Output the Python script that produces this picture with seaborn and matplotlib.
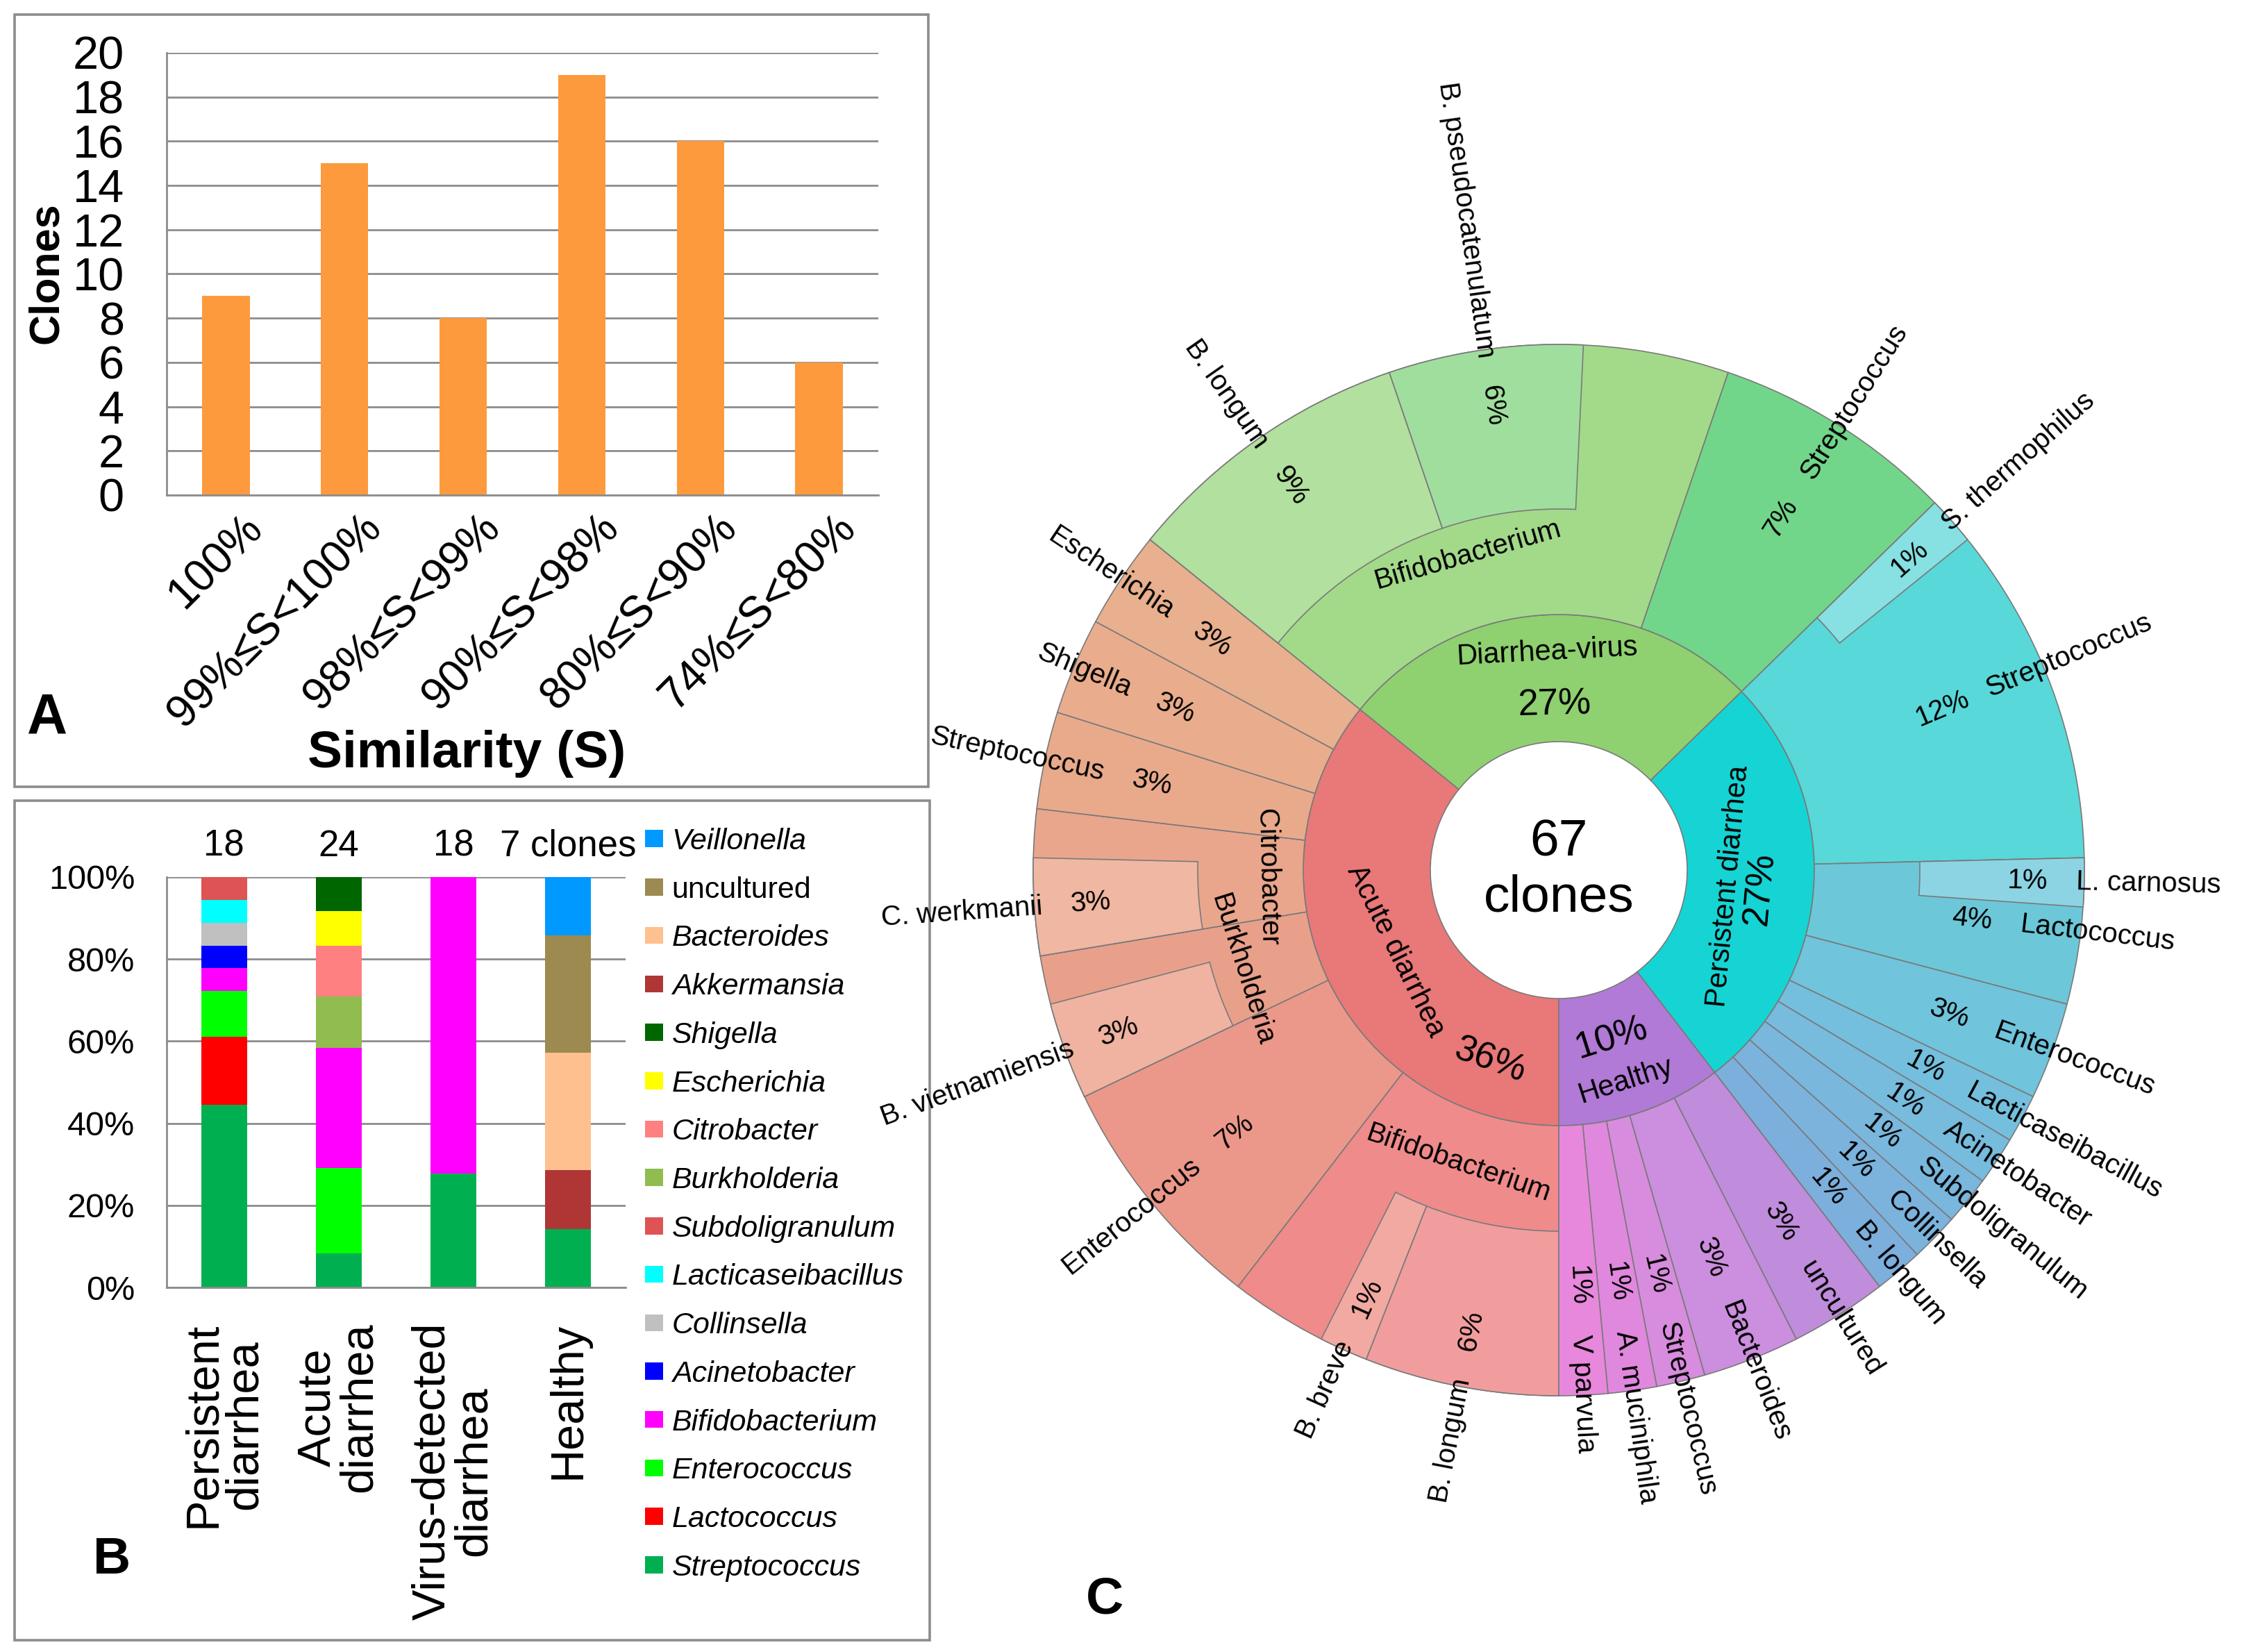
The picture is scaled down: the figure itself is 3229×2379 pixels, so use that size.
import numpy as np
import pandas as pd
import matplotlib
matplotlib.use("Agg")
import matplotlib.pyplot as plt
import seaborn as sns
from matplotlib import font_manager
from matplotlib.patches import Wedge, Rectangle, Patch
from matplotlib.transforms import ScaledTranslation

# ---------------- data ----------------
# Panel A: clones per similarity bin
similarity_bins = ["100%", "99%≤S<100%", "98%≤S<99%", "90%≤S<98%", "80%≤S<90%", "74%≤S<80%"]
clones_per_bin = [9, 15, 8, 19, 16, 6]

# Sunburst groups, clockwise from 6 o'clock
groups = ["Acute diarrhea", "Diarrhea-virus", "Persistent diarrhea", "Healthy"]

acute_genera = ["Bifidobacterium", "Enterococcus", "Burkholderia", "Citrobacter",
                "Streptococcus", "Shigella", "Escherichia"]
acute_counts = [7, 5, 3, 3, 2, 2, 2]
acute_species = ["B. longum", "B. breve", "B. vietnamiensis", "C. werkmanii"]
acute_species_genus = ["Bifidobacterium", "Bifidobacterium", "Burkholderia", "Citrobacter"]
acute_species_counts = [4, 1, 2, 2]

virus_genera = ["Bifidobacterium", "Streptococcus"]
virus_counts = [13, 5]
virus_species = ["B. longum", "B. pseudocatenulatum"]
virus_species_genus = ["Bifidobacterium", "Bifidobacterium"]
virus_species_counts = [6, 4]

persistent_genera = ["Streptococcus", "Lactococcus", "Enterococcus", "Lacticaseibacillus",
                     "Acinetobacter", "Subdoligranulum", "Collinsella", "Bifidobacterium"]
persistent_counts = [8, 3, 2, 1, 1, 1, 1, 1]
persistent_species = ["S. thermophilus", "L. carnosus", "B. longum"]
persistent_species_genus = ["Streptococcus", "Lactococcus", "Bifidobacterium"]
persistent_species_counts = [1, 1, 1]

healthy_genera = ["uncultured", "Bacteroides", "Streptococcus", "Akkermansia", "Veillonella"]
healthy_counts = [2, 2, 1, 1, 1]
healthy_species = ["A. muciniphila", "V parvula"]
healthy_species_genus = ["Akkermansia", "Veillonella"]
healthy_species_counts = [1, 1]

# Panel B
b_groups = ["Persistent diarrhea", "Acute diarrhea", "Diarrhea-virus", "Healthy"]
b_ticklabels = ["Persistent\ndiarrhea", "Acute\ndiarrhea", "Virus-detected\ndiarrhea", "Healthy"]
legend_genera = ["Veillonella", "uncultured", "Bacteroides", "Akkermansia", "Shigella",
                 "Escherichia", "Citrobacter", "Burkholderia", "Subdoligranulum",
                 "Lacticaseibacillus", "Collinsella", "Acinetobacter", "Bifidobacterium",
                 "Enterococcus", "Lactococcus", "Streptococcus"]

# ---------------- colours ----------------
genus_palette = {
    "Veillonella": "#0099FF", "uncultured": "#9C8A50", "Bacteroides": "#FFC090",
    "Akkermansia": "#B03636", "Shigella": "#006600", "Escherichia": "#FFFF00",
    "Citrobacter": "#FF8080", "Burkholderia": "#90BC50", "Subdoligranulum": "#DE5454",
    "Lacticaseibacillus": "#00FFFF", "Collinsella": "#C0C0C0", "Acinetobacter": "#0000FF",
    "Bifidobacterium": "#FF00FF", "Enterococcus": "#00FF00", "Lactococcus": "#FF0000",
    "Streptococcus": "#00B050",
}
ring_colors = {"Acute diarrhea": "#E97878", "Diarrhea-virus": "#8FD170",
               "Persistent diarrhea": "#16D4D4", "Healthy": "#B07AD6"}
sun_genus_colors = {
    "Acute diarrhea": ["#EF8B8B", "#EB988A", "#E9A08A", "#E9A68C", "#E9AA8C", "#E9AD8D", "#E8B08E"],
    "Diarrhea-virus": ["#A3DA8A", "#72D68A"],
    "Persistent diarrhea": ["#58D8D8", "#6CC8D8", "#70C4DC", "#74BFDD", "#77BBDD",
                            "#79B7DD", "#7BB3DD", "#7DAFDD"],
    "Healthy": ["#C08CDC", "#CC8EDE", "#D88CDE", "#E088DE", "#E888DC"],
}
sun_species_colors = {
    "Acute diarrhea": ["#F29D9D", "#F2A9A2", "#F0B3A1", "#F0B7A2"],
    "Diarrhea-virus": ["#B2E09E", "#A0DE9E"],
    "Persistent diarrhea": ["#87E0E2", "#8CD4E4", "#7DAFDD"],
    "Healthy": ["#E088DE", "#E888DC"],
}
GRID = "#8C8C8C"
EDGE = "#7A7A7A"

table = {
    "Acute diarrhea": (acute_genera, acute_counts, acute_species, acute_species_genus, acute_species_counts),
    "Diarrhea-virus": (virus_genera, virus_counts, virus_species, virus_species_genus, virus_species_counts),
    "Persistent diarrhea": (persistent_genera, persistent_counts, persistent_species,
                            persistent_species_genus, persistent_species_counts),
    "Healthy": (healthy_genera, healthy_counts, healthy_species, healthy_species_genus, healthy_species_counts),
}

# ---------------- figure ----------------
sns.set_style("white")
plt.rcParams["font.family"] = ["Liberation Sans", "DejaVu Sans"]
plt.rcParams["text.color"] = "black"
plt.rcParams["axes.labelcolor"] = "black"


def pick_font(name, fallback):
    try:
        font_manager.findfont(font_manager.FontProperties(family=name), fallback_to_default=False)
        return name
    except Exception:
        return fallback


NARROW = pick_font("Liberation Sans Narrow", "Liberation Sans")

W, H = 3230, 2379
fig = plt.figure(figsize=(W / 200, H / 200), dpi=200)


def fax(x0, y0, x1, y1):
    return [x0 / W, 1 - y1 / H, (x1 - x0) / W, (y1 - y0) / H]


axA = fig.add_axes(fax(240, 76, 1265, 713))
axB = fig.add_axes(fax(240, 1263, 901, 1854))
canvas = fig.add_axes([0, 0, 1, 1], zorder=5)
canvas.set_xlim(0, W)
canvas.set_ylim(H, 0)
canvas.axis("off")

# ---------- Panel A ----------
sns.barplot(x=similarity_bins, y=clones_per_bin, color="#FD9A3E", saturation=1,
            width=0.4, errorbar=None, ax=axA, linewidth=0)
axA.set_xlim(-0.5, 5.5)
axA.set_ylim(0, 20)
axA.set_yticks(range(0, 21, 2))
axA.yaxis.grid(True, color=GRID, lw=1.0)
axA.set_axisbelow(True)
sns.despine(ax=axA)
for s in ["left", "bottom"]:
    axA.spines[s].set_color(GRID)
    axA.spines[s].set_linewidth(1.0)
axA.tick_params(axis="y", length=7.5, width=1.0, color=GRID, labelcolor="black", labelsize=24, pad=14.5)
axA.set_xticks(np.arange(-0.5, 6, 1), minor=True)
axA.tick_params(axis="x", which="minor", length=7.5, width=1.0, color=GRID, direction="out")
axA.tick_params(axis="x", which="major", length=0, labelsize=23, labelcolor="black", pad=6)
axA.set_xticks(range(len(similarity_bins)))
axA.set_xticklabels(similarity_bins)
for lbl in axA.get_xticklabels():
    lbl.set_rotation(45)
    lbl.set_ha("right")
    lbl.set_va("top")
    lbl.set_rotation_mode("anchor")
    lbl.set_transform(lbl.get_transform() + ScaledTranslation(0.11, 0, fig.dpi_scale_trans))
axA.set_xlabel("")
axA.set_ylabel("")

# ---------- Panel B ----------
rows = []
for g in b_groups:
    for gen, c in zip(table[g][0], table[g][1]):
        rows.append((g, gen, c))
df = pd.DataFrame(rows, columns=["group", "genus", "clones"])
wide = df.pivot_table(index="group", columns="genus", values="clones", aggfunc="sum", fill_value=0)
wide = wide.reindex(index=b_groups, columns=legend_genera[::-1], fill_value=0)
pct = wide.div(wide.sum(axis=1), axis=0) * 100
cum = pct.cumsum(axis=1)
for gen in legend_genera:
    d = pd.DataFrame({"group": b_ticklabels, "top": cum[gen].values})
    sns.barplot(data=d, x="group", y="top", order=b_ticklabels, color=genus_palette[gen],
                saturation=1, width=0.4, errorbar=None, ax=axB, linewidth=0)
axB.set_xlim(-0.5, 3.5)
axB.set_ylim(0, 100)
axB.set_yticks(range(0, 101, 20))
axB.set_yticklabels([f"{v}%" for v in range(0, 101, 20)])
axB.yaxis.grid(True, color=GRID, lw=1.0)
axB.set_axisbelow(True)
sns.despine(ax=axB)
for s in ["left", "bottom"]:
    axB.spines[s].set_color(GRID)
    axB.spines[s].set_linewidth(1.0)
axB.tick_params(axis="y", length=7.5, width=1.0, color=GRID, labelcolor="black", labelsize=17.5, pad=9)
axB.set_xticks(np.arange(-0.5, 4, 1), minor=True)
axB.tick_params(axis="x", which="minor", length=7.5, width=1.0, color=GRID, direction="out")
axB.tick_params(axis="x", which="major", length=0, labelsize=24, labelcolor="black", pad=18)
axB.set_xticks(range(4))
axB.set_xticklabels(b_ticklabels, rotation=90, va="top", ha="center", linespacing=0.95)
axB.set_xlabel("")
axB.set_ylabel("")
totals = wide.sum(axis=1).values
for i, n in enumerate(totals):
    txt = f"{n} clones" if i == len(totals) - 1 else f"{n}"
    axB.text(i, 107.5, txt, ha="center", va="center", fontsize=19, clip_on=False)

handles = [Patch(facecolor=genus_palette[g], edgecolor="none") for g in legend_genera]
leg = axB.legend(handles, legend_genera, loc="upper left", bbox_to_anchor=(929 / W, 1 - 1192 / H),
                 bbox_transform=fig.transFigure, frameon=False, fontsize=15.5, handlelength=0.6,
                 handleheight=0.5, handletextpad=0.3, labelspacing=0.69, borderpad=0, borderaxespad=0)
for t in leg.get_texts():
    t.set_color("black")
    if t.get_text() != "uncultured":
        t.set_style("italic")

# ---------- frames, axis titles and panel letters ----------
canvas.add_patch(Rectangle((21, 21), 1316, 1112, fill=False, edgecolor=GRID, lw=1.3))
canvas.add_patch(Rectangle((21, 1153), 1318, 1209, fill=False, edgecolor=GRID, lw=1.3))
canvas.text(672, 1086, "Similarity (S)", ha="center", va="center", fontsize=27, fontweight="bold")
canvas.text(68, 393, "Clones", ha="center", va="center", rotation=90, fontsize=22, fontweight="bold")
canvas.text(68, 1035, "A", ha="center", va="center", fontsize=29, fontweight="bold")
canvas.text(161, 2247, "B", ha="center", va="center", fontsize=27, fontweight="bold")
canvas.text(1591, 2304, "C", ha="center", va="center", fontsize=27, fontweight="bold")

# ---------- Panel C: sunburst ----------
CX, CY = 2245, 1253
R_HOLE, R_CAT, R_GEN, R_OUT = 185, 368, 520, 757
TOTAL = sum(sum(table[g][1]) for g in groups)
STEP = 360.0 / TOTAL
LAB = 14.5


def polar(theta, r):
    t = np.radians(theta)
    return CX - r * np.sin(t), CY + r * np.cos(t)


def ring(t0, t1, r_in, r_out, color):
    canvas.add_patch(Wedge((CX, CY), r_out, 90 + t0, 90 + t1, width=r_out - r_in,
                           facecolor=color, edgecolor=EDGE, linewidth=0.6))


def tangential_rot(theta):
    rot = (-theta + 180) % 360 - 180
    if rot > 90:
        rot -= 180
    elif rot <= -90:
        rot += 180
    return rot


def radial_label(theta, r_in, name, pct):
    t = np.radians(theta)
    rot = np.degrees(np.arctan2(-np.cos(t), -np.sin(t)))
    flipped = False
    if rot > 90:
        rot -= 180
        flipped = True
    elif rot <= -90:
        rot += 180
        flipped = True
    r_pct = (r_in + R_OUT) / 2 + 37
    x, y = polar(theta, r_pct)
    canvas.text(x, y, pct, rotation=rot, rotation_mode="anchor", ha="center", va="center", fontsize=LAB)
    x, y = polar(theta, r_pct + 70)
    canvas.text(x, y, name, rotation=rot, rotation_mode="anchor",
                ha="right" if flipped else "left", va="center", fontsize=LAB)


GENUS_RING_R = {("Diarrhea-virus", "Bifidobacterium"): 473, ("Acute diarrhea", "Bifidobacterium"): 446,
                ("Acute diarrhea", "Citrobacter"): 420, ("Acute diarrhea", "Burkholderia"): 478}
RING_LABEL_POS = {  # (theta, r) for group name and for its percentage
    "Acute diarrhea": ((63.6, 262), (19.8, 292)),
    "Diarrhea-virus": ((177.0, 314), (178.5, 238)),
    "Persistent diarrhea": ((275.4, 246), (275.3, 291)),
    "Healthy": ((342.3, 319), (342.5, 254)),
}

theta = 0.0
for g in groups:
    genera, counts, species, sp_genus, sp_counts = table[g]
    g0 = theta
    g1 = theta + sum(counts) * STEP
    ring(g0, g1, R_HOLE, R_CAT, ring_colors[g])
    sp_cols = sun_species_colors[g]
    for gen, c, gcol in zip(genera, counts, sun_genus_colors[g]):
        t0, t1 = theta, theta + c * STEP
        sp = [(s, k, col) for s, sg, k, col in zip(species, sp_genus, sp_counts, sp_cols) if sg == gen]
        n_sp = sum(k for _, k, _ in sp)
        pct = f"{round(100 * c / TOTAL)}%"
        if len(sp) == 1 and n_sp == c:
            ring(t0, t1, R_CAT, R_OUT, sp[0][2])
            radial_label((t0 + t1) / 2, R_CAT, sp[0][0], pct)
        else:
            ring(t0, t1, R_CAT, R_OUT, gcol)
            ts = t0
            for s, k, col in sp:
                ring(ts, ts + k * STEP, R_GEN, R_OUT, col)
                radial_label(ts + k * STEP / 2, R_GEN, s, f"{round(100 * k / TOTAL)}%")
                ts += k * STEP
            if n_sp / c < 0.5:
                radial_label((t0 + t1) / 2, R_CAT, gen, pct)
            else:
                tm = (t0 + t1) / 2
                x, y = polar(tm, GENUS_RING_R.get((g, gen), (R_CAT + R_GEN) / 2))
                canvas.text(x, y, gen, rotation=tangential_rot(tm), rotation_mode="anchor",
                            ha="center", va="center", fontsize=LAB)
        theta = t1
    (nt, nr), (pt, pr) = RING_LABEL_POS[g]
    x, y = polar(nt, nr)
    canvas.text(x, y, g, rotation=tangential_rot(nt), rotation_mode="anchor", ha="center",
                va="center", fontsize=15, family=[NARROW, "DejaVu Sans"])
    x, y = polar(pt, pr)
    canvas.text(x, y, f"{round(100 * sum(counts) / TOTAL)}%", rotation=tangential_rot(pt),
                rotation_mode="anchor", ha="center", va="center", fontsize=19,
                family=[NARROW, "DejaVu Sans"])

canvas.text(CX, CY, f"{TOTAL}\nclones", ha="center", va="center", fontsize=27, linespacing=1.2)

fig.savefig("out.png", dpi=200, facecolor="white")
